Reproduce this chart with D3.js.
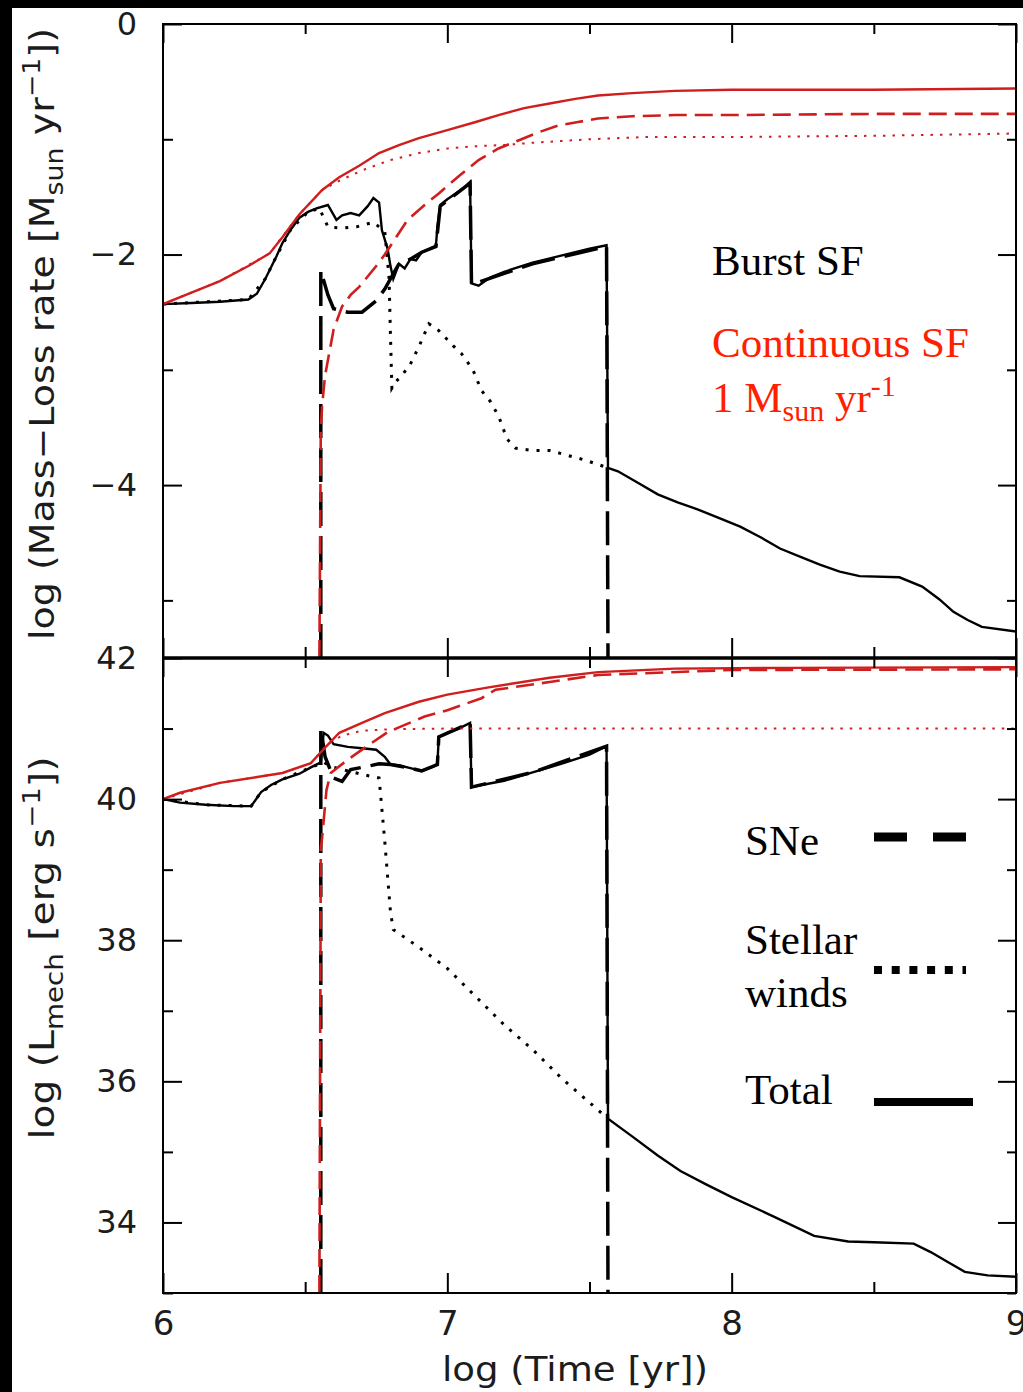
<!DOCTYPE html>
<html>
<head>
<meta charset="utf-8">
<script src="https://cdn.jsdelivr.net/npm/d3@7"></script>
<style>
  html, body { margin: 0; padding: 0; background: #000; }
  svg { display: block; }
</style>
</head>
<body>
<script>
// ---------- data: log(time/yr) against log(rate) ----------
// Instantaneous burst: mass-loss rate [Msun/yr]
const burstTotalMdot = [
  [6.00,-2.43],[6.10,-2.42],[6.20,-2.41],[6.30,-2.39],[6.33,-2.34],[6.36,-2.21],[6.40,-2.01],
  [6.42,-1.90],[6.45,-1.78],[6.48,-1.68],[6.51,-1.63],[6.54,-1.60],[6.58,-1.57],[6.61,-1.70],
  [6.63,-1.66],[6.66,-1.64],[6.69,-1.66],[6.72,-1.58],[6.74,-1.51],[6.76,-1.55],[6.77,-1.79],
  [6.79,-1.95],[6.80,-2.10],[6.81,-2.21],[6.83,-2.08],[6.85,-2.12],[6.87,-2.04],[6.89,-2.05],
  [6.91,-1.98],[6.94,-1.95],[6.96,-1.92],[6.965,-1.76],[6.975,-1.57],[7.00,-1.52],[7.03,-1.47],
  [7.06,-1.42],[7.08,-1.37],[7.085,-2.25],[7.11,-2.27],[7.15,-2.20],[7.20,-2.15],[7.25,-2.11],
  [7.30,-2.07],[7.35,-2.04],[7.40,-2.01],[7.45,-1.98],[7.50,-1.95],[7.56,-1.92],[7.565,-3.85],
  [7.60,-3.88],[7.67,-3.98],[7.74,-4.08],[7.81,-4.15],[7.88,-4.21],[7.95,-4.28],[8.03,-4.36],
  [8.10,-4.45],[8.17,-4.55],[8.24,-4.62],[8.31,-4.69],[8.38,-4.75],[8.45,-4.79],[8.59,-4.80],
  [8.67,-4.88],[8.73,-4.99],[8.78,-5.10],[8.83,-5.17],[8.88,-5.23],[9.00,-5.27]
];
const burstWindsMdot = [
  [6.00,-2.43],[6.30,-2.39],[6.36,-2.21],[6.40,-2.01],[6.45,-1.78],[6.51,-1.63],[6.55,-1.60],
  [6.58,-1.76],[6.63,-1.77],[6.68,-1.76],[6.74,-1.72],[6.78,-1.80],[6.795,-2.20],[6.80,-2.70],
  [6.805,-3.16],[6.82,-3.10],[6.84,-3.05],[6.87,-2.95],[6.90,-2.80],[6.935,-2.60],[6.97,-2.66],
  [7.02,-2.79],[7.05,-2.86],[7.09,-3.00],[7.12,-3.18],[7.15,-3.27],[7.18,-3.40],[7.21,-3.60],
  [7.24,-3.68],[7.30,-3.70],[7.36,-3.70],[7.42,-3.74],[7.48,-3.78],[7.565,-3.85]
];
const burstSNeMdot = [
  [6.555,-5.5],[6.555,-2.14],[6.58,-2.35],[6.60,-2.47],[6.65,-2.50],[6.70,-2.50],[6.75,-2.40],
  [6.78,-2.30],[6.80,-2.21],[6.83,-2.08],[6.87,-2.04],[6.91,-1.98],[6.96,-1.93],[6.975,-1.58],
  [7.08,-1.38],[7.085,-2.26],[7.30,-2.08],[7.56,-1.93],[7.565,-5.5]
];
// Continuous star formation (1 Msun/yr): mass-loss rate
const contTotalMdot = [
  [6.00,-2.43],[6.10,-2.33],[6.20,-2.23],[6.30,-2.10],[6.375,-1.99],[6.42,-1.85],[6.48,-1.65],
  [6.56,-1.44],[6.62,-1.33],[6.69,-1.23],[6.76,-1.12],[6.83,-1.05],[6.90,-0.99],[7.00,-0.92],
  [7.10,-0.85],[7.18,-0.79],[7.27,-0.73],[7.36,-0.69],[7.45,-0.65],[7.53,-0.62],[7.65,-0.60],
  [7.80,-0.58],[8.00,-0.57],[8.50,-0.57],[9.00,-0.56]
];
const contSNeMdot = [
  [6.55,-5.5],[6.555,-3.50],[6.56,-3.30],[6.57,-3.05],[6.60,-2.65],[6.63,-2.45],[6.66,-2.35],
  [6.69,-2.28],[6.75,-2.10],[6.78,-2.00],[6.82,-1.85],[6.86,-1.70],[6.92,-1.57],[6.97,-1.47],
  [7.04,-1.32],[7.11,-1.18],[7.18,-1.08],[7.25,-1.01],[7.32,-0.94],[7.39,-0.88],[7.46,-0.85],
  [7.53,-0.82],[7.65,-0.80],[7.80,-0.79],[8.00,-0.79],[8.50,-0.78],[9.00,-0.78]
];
const contWindsMdot = [
  [6.00,-2.43],[6.20,-2.23],[6.375,-1.99],[6.48,-1.65],[6.56,-1.44],[6.62,-1.36],[6.70,-1.27],
  [6.80,-1.18],[6.90,-1.12],[7.00,-1.08],[7.10,-1.06],[7.20,-1.05],[7.30,-1.03],[7.50,-1.00],
  [7.70,-0.98],[8.00,-0.98],[8.50,-0.97],[9.00,-0.95]
];

// Instantaneous burst: mechanical luminosity [erg/s]
const burstTotalLmech = [
  [6.00,40.00],[6.06,39.95],[6.15,39.92],[6.25,39.90],[6.31,39.90],[6.345,40.10],[6.38,40.20],
  [6.42,40.28],[6.48,40.36],[6.52,40.45],[6.555,40.52],[6.565,40.94],[6.58,40.90],[6.60,40.78],
  [6.65,40.74],[6.70,40.72],[6.75,40.70],[6.78,40.60],[6.80,40.49],[6.83,40.48],[6.87,40.44],
  [6.91,40.40],[6.95,40.46],[6.965,40.50],[6.97,40.88],[7.00,40.94],[7.04,41.00],[7.08,41.08],
  [7.085,40.17],[7.12,40.20],[7.20,40.26],[7.30,40.38],[7.40,40.50],[7.50,40.63],[7.56,40.75],
  [7.565,35.47],[7.65,35.22],[7.74,34.95],[7.82,34.73],[7.91,34.54],[8.00,34.36],[8.15,34.08],
  [8.29,33.81],[8.41,33.73],[8.50,33.72],[8.64,33.70],[8.70,33.58],[8.76,33.44],[8.82,33.30],
  [8.90,33.25],[9.00,33.23]
];
const burstWindsLmech = [
  [6.00,40.00],[6.15,39.92],[6.31,39.90],[6.345,40.10],[6.42,40.28],[6.52,40.45],[6.565,40.52],
  [6.60,40.45],[6.65,40.40],[6.70,40.35],[6.76,40.30],[6.78,39.40],[6.80,38.40],[6.81,38.15],
  [6.90,37.90],[7.00,37.60],[7.10,37.20],[7.20,36.80],[7.30,36.45],[7.40,36.05],[7.50,35.70],
  [7.565,35.47]
];
const burstSNeLmech = [
  [6.555,33.0],[6.555,41.00],[6.57,40.60],[6.60,40.30],[6.63,40.25],[6.66,40.42],[6.70,40.45],
  [6.76,40.50],[6.80,40.49],[6.87,40.44],[6.91,40.40],[6.965,40.49],[6.97,40.88],[7.08,41.08],
  [7.085,40.17],[7.30,40.38],[7.56,40.75],[7.565,33.0]
];
// Continuous star formation: mechanical luminosity
const contTotalLmech = [
  [6.00,40.00],[6.06,40.09],[6.20,40.23],[6.42,40.37],[6.52,40.51],[6.57,40.73],[6.62,40.94],
  [6.70,41.08],[6.78,41.22],[6.90,41.38],[7.00,41.48],[7.14,41.58],[7.36,41.72],[7.53,41.80],
  [7.80,41.85],[8.20,41.86],[9.00,41.87]
];
const contSNeLmech = [
  [6.55,33.0],[6.555,39.30],[6.56,39.47],[6.575,40.13],[6.59,40.37],[6.65,40.56],[6.71,40.73],
  [6.79,40.95],[6.92,41.17],[7.00,41.26],[7.12,41.43],[7.17,41.55],[7.36,41.66],[7.53,41.76],
  [8.00,41.83],[9.00,41.84]
];
const contWindsLmech = [
  [6.00,40.00],[6.20,40.23],[6.42,40.37],[6.52,40.51],[6.58,40.78],[6.63,40.90],[6.70,40.97],
  [6.80,40.99],[7.00,41.00],[9.00,41.00]
];

// ---------- axis ticks ----------
const xMajor = [6, 7, 8, 9];
const xMinor = [6.5, 7.5, 8.5];
const topMajor = [0, -2, -4];
const topMinor = [-1, -3, -5];
const botMajor = [42, 40, 38, 36, 34];
const botMinor = [41, 39, 37, 35, 33];

// ---------- canvas ----------
const W = 1023, H = 1392;
const svg = d3.select("body").append("svg").attr("width", W).attr("height", H);
svg.append("rect").attr("width", W).attr("height", H).attr("fill", "#000");
svg.append("rect").attr("x", 12).attr("y", 8).attr("width", W - 12).attr("height", H - 8).attr("fill", "#fff");

const L = 163, R = 1016, T = 24, MID = 658, B = 1293;
const x = d3.scaleLinear().domain([6, 9]).range([L, R]);
const yTop = d3.scaleLinear().domain([-5.5, 0]).range([MID, T]);
const yBot = d3.scaleLinear().domain([33, 42]).range([B, MID]);

const RED = "#d01d1d";
const tickFont = "'DejaVu Sans', sans-serif";

const defs = svg.append("defs");
defs.append("clipPath").attr("id", "clipTop").append("rect")
  .attr("x", L).attr("y", T).attr("width", R - L).attr("height", MID - T);
defs.append("clipPath").attr("id", "clipBot").append("rect")
  .attr("x", L).attr("y", MID).attr("width", R - L).attr("height", B - MID);

function drawSeries(g, y, data, color, style) {
  const line = d3.line().x(d => x(d[0])).y(d => y(d[1]));
  const p = g.append("path").datum(data).attr("d", line)
    .attr("fill", "none").attr("stroke", color).attr("stroke-linejoin", "miter");
  if (style === "solid") p.attr("stroke-width", 2.4);
  if (style === "dash") p.attr("stroke-width", 3.5).attr("stroke-dasharray", "34,10");
  if (style === "dot") p.attr("stroke-width", 3).attr("stroke-dasharray", "3,8");
  if (style === "dotThin") p.attr("stroke-width", 2).attr("stroke-dasharray", "2.5,7");
  if (style === "dashRed") p.attr("stroke-width", 2.6).attr("stroke-dasharray", "18,8");
  return p;
}

// ---------- panels ----------
function panel(y, clipId, series) {
  const g = svg.append("g").attr("clip-path", `url(#${clipId})`);
  series.forEach(s => drawSeries(g, y, s[0], s[1], s[2]));
}

panel(yTop, "clipTop", [
  [burstSNeMdot, "#000", "dash"],
  [burstWindsMdot, "#000", "dot"],
  [burstTotalMdot, "#000", "solid"],
  [contSNeMdot, RED, "dashRed"],
  [contWindsMdot, RED, "dotThin"],
  [contTotalMdot, RED, "solid"]
]);
panel(yBot, "clipBot", [
  [burstSNeLmech, "#000", "dash"],
  [burstWindsLmech, "#000", "dot"],
  [burstTotalLmech, "#000", "solid"],
  [contSNeLmech, RED, "dashRed"],
  [contWindsLmech, RED, "dotThin"],
  [contTotalLmech, RED, "solid"]
]);

// ---------- axes (ticks point inward) ----------
function styleAxis(g) {
  g.select(".domain").remove();
  g.selectAll(".tick line").attr("stroke", "#000").attr("stroke-width", 2);
  g.selectAll(".tick text").attr("font-family", tickFont).attr("font-size", 32).attr("fill", "#1c1c1c");
}
function frame(y, top, bottom, major, minor, labelX) {
  // left
  svg.append("g").attr("transform", `translate(${L},0)`)
    .call(d3.axisLeft(y).tickValues(major).tickSize(-19).tickPadding(26).tickFormat(d3.format("d")))
    .call(styleAxis);
  svg.append("g").attr("transform", `translate(${L},0)`)
    .call(d3.axisLeft(y).tickValues(minor).tickSize(-10).tickFormat("")).call(styleAxis);
  // right
  svg.append("g").attr("transform", `translate(${R},0)`)
    .call(d3.axisRight(y).tickValues(major).tickSize(-18).tickFormat("")).call(styleAxis);
  svg.append("g").attr("transform", `translate(${R},0)`)
    .call(d3.axisRight(y).tickValues(minor).tickSize(-9).tickFormat("")).call(styleAxis);
  // top & bottom
  svg.append("g").attr("transform", `translate(0,${top})`)
    .call(d3.axisTop(x).tickValues(xMajor).tickSize(-19).tickFormat("")).call(styleAxis);
  svg.append("g").attr("transform", `translate(0,${top})`)
    .call(d3.axisTop(x).tickValues(xMinor).tickSize(-10).tickFormat("")).call(styleAxis);
  const bx = svg.append("g").attr("transform", `translate(0,${bottom})`)
    .call(d3.axisBottom(x).tickValues(xMajor).tickSize(-20).tickPadding(18)
      .tickFormat(labelX ? d3.format("d") : ""))
    .call(styleAxis);
  bx.selectAll(".tick text").attr("font-size", 34);
  svg.append("g").attr("transform", `translate(0,${bottom})`)
    .call(d3.axisBottom(x).tickValues(xMinor).tickSize(-11).tickFormat("")).call(styleAxis);
  svg.append("rect").attr("x", L).attr("y", top).attr("width", R - L).attr("height", bottom - top)
    .attr("fill", "none").attr("stroke", "#000").attr("stroke-width", 2);
}
frame(yTop, T, MID, topMajor, topMinor, false);
frame(yBot, MID, B, botMajor, botMinor, true);
// shared border between panels is heavier
svg.append("line").attr("x1", L).attr("x2", R).attr("y1", MID).attr("y2", MID)
  .attr("stroke", "#000").attr("stroke-width", 3.5);

// ---------- axis titles ----------
function rotLabel(cx, cy, len, parts) {
  const t = svg.append("text")
    .attr("transform", `translate(${cx},${cy}) rotate(-90)`)
    .attr("text-anchor", "middle")
    .attr("font-family", tickFont).attr("font-size", 34).attr("fill", "#1c1c1c")
    .attr("textLength", len).attr("lengthAdjust", "spacingAndGlyphs");
  parts.forEach(p => {
    const s = t.append("tspan").text(p.t);
    if (p.sub) s.attr("font-size", 24).attr("dy", 9);
    if (p.sup) s.attr("font-size", 24).attr("dy", -14);
    if (p.back) s.attr("dy", p.back);
  });
}
rotLabel(54, 334, 612, [
  { t: "log (Mass\u2212Loss rate [M" }, { t: "sun", sub: true }, { t: " yr", back: -9 },
  { t: "\u22121", sup: true }, { t: "])", back: 14 }
]);
rotLabel(54, 948, 383, [
  { t: "log (L" }, { t: "mech", sub: true }, { t: " [erg s", back: -9 },
  { t: "\u22121", sup: true }, { t: "])", back: 14 }
]);
svg.append("text").attr("x", 442).attr("y", 1381)
  .attr("font-family", tickFont).attr("font-size", 34).attr("fill", "#1c1c1c")
  .attr("textLength", 266).attr("lengthAdjust", "spacingAndGlyphs")
  .text("log (Time [yr])");

// ---------- annotations ----------
const serif = "'Liberation Serif', 'Times New Roman', serif";
svg.append("text").attr("x", 712).attr("y", 275).attr("font-family", serif)
  .attr("font-size", 43).attr("fill", "#000").text("Burst SF");
svg.append("text").attr("x", 712).attr("y", 357).attr("font-family", serif)
  .attr("font-size", 43).attr("fill", "#ff2000").text("Continuous SF");
const rate = svg.append("text").attr("x", 712).attr("y", 412).attr("font-family", serif)
  .attr("font-size", 43).attr("fill", "#ff2000");
rate.append("tspan").text("1 M");
rate.append("tspan").attr("font-size", 30).attr("dy", 9).text("sun");
rate.append("tspan").attr("dy", -9).text(" yr");
rate.append("tspan").attr("font-size", 30).attr("dy", -16).text("-1");

// ---------- line-style key ----------
const key = svg.append("g").attr("font-family", serif).attr("font-size", 43).attr("fill", "#000");
key.append("text").attr("x", 745).attr("y", 855).text("SNe");
key.append("text").attr("x", 745).attr("y", 954).text("Stellar");
key.append("text").attr("x", 745).attr("y", 1007).text("winds");
key.append("text").attr("x", 745).attr("y", 1104).text("Total");
key.append("line").attr("x1", 874).attr("x2", 966).attr("y1", 837).attr("y2", 837)
  .attr("stroke", "#000").attr("stroke-width", 9).attr("stroke-dasharray", "33,26");
key.append("line").attr("x1", 874).attr("x2", 966).attr("y1", 970).attr("y2", 970)
  .attr("stroke", "#000").attr("stroke-width", 8).attr("stroke-dasharray", "8,9.7");
key.append("line").attr("x1", 874).attr("x2", 973).attr("y1", 1102).attr("y2", 1102)
  .attr("stroke", "#000").attr("stroke-width", 8);
</script>
</body>
</html>
